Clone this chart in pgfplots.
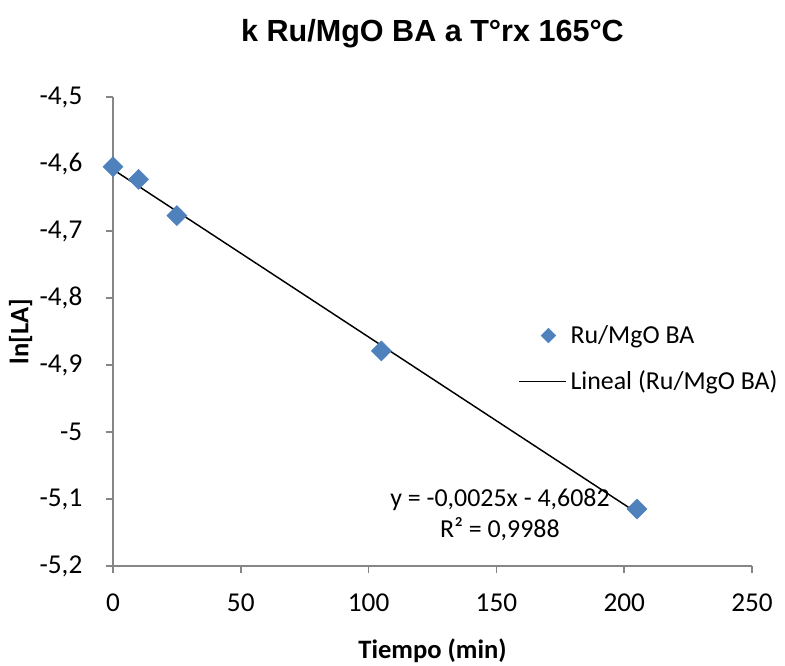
\documentclass[border=0pt]{standalone}
\usepackage{fontspec}
\setmainfont{Carlito}
\newfontfamily\arialfont{Liberation Sans}
\usepackage{pgfplots}
\pgfplotsset{compat=1.18}

\definecolor{exblue}{HTML}{4F81BD}
\definecolor{exgray}{HTML}{868686}

% data
\pgfplotstableread{
t    lnla
0    -4.604
10   -4.623
25   -4.677
105  -4.879
205  -5.115
}\datos

\begin{document}
\begin{tikzpicture}
\begin{axis}[
    name=ax,
    scale only axis,
    width=479.25bp,
    height=351.75bp,
    xmin=0, xmax=250,
    ymin=-5.2, ymax=-4.5,
    xtick={0,50,...,250},
    ytick={-5.2,-5.1,-5,-4.9,-4.8,-4.7,-4.6,-4.5},
    yticklabels={{-5,2},{-5,1},{-5},{-4,9},{-4,8},{-4,7},{-4,6},{-4,5}},
    xticklabels={0,50,100,150,200,250},
    axis x line*=bottom,
    axis y line*=left,
    axis line style={exgray, line width=1.2bp, -},
    tick style={exgray, line width=1.2bp},
    tick align=outside,
    major tick length=5.5bp,
    ticklabel style={font=\fontsize{20.5}{24}\selectfont, text=black},
    xticklabel style={yshift=-11.5bp},
    yticklabel style={xshift=-14bp},
    xlabel={\textbf{Tiempo (min)}},
    ylabel={\textbf{ln[LA]}},
    label style={font=\fontsize{20}{24}\selectfont, inner sep=0pt},
    xlabel style={yshift=-17.5bp},
    ylabel style={yshift=2bp},
    title={\arialfont\bfseries k Ru/MgO BA a T°rx 165°C},
    title style={font=\fontsize{23}{27}\selectfont, yshift=27bp},
    clip=false,
    legend style={draw=none, fill=none, at={(0.634,0.442)}, anchor=west,
        inner sep=0pt,
        font=\fontsize{19.5}{23}\selectfont, row sep=15bp,
        legend cell align=left, nodes={inner xsep=3bp}},
]
\addplot[only marks, mark=square*, mark size=5.3bp,
    mark options={rotate=45, fill=exblue, draw=exblue},
    legend image code/.code={
        \fill[exblue] (22bp,-5.5bp) -- (27.5bp,0) -- (22bp,5.5bp) -- (16.5bp,0) -- cycle;
        \path[draw=none] (0,0) -- (35bp,0);}]
    table[x=t, y=lnla] {\datos};
\addlegendentry{Ru/MgO BA}
\addplot[black, line width=1.1bp, no marks,
    legend image code/.code={\draw[black, line width=1.1bp] (0,0) -- (35bp,0);}]
    coordinates {(0,-4.6082) (205,-5.1207)};
\addlegendentry{Lineal (Ru/MgO BA)}
\node[align=center, font=\fontsize{19.5}{23}\selectfont]
    at (axis cs:151.4,-5.124) {y = -0,0025x - 4,6082\\R² = 0,9988};
\end{axis}
\path[use as bounding box] ([shift={(-84.75bp,-75bp)}]ax.south west)
    rectangle ([shift={(24.75bp,72.75bp)}]ax.north east);
\end{tikzpicture}
\end{document}
